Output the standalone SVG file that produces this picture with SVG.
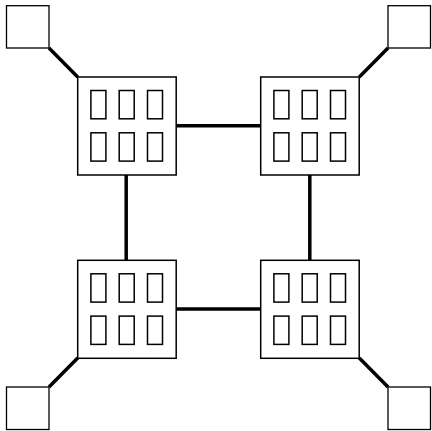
<svg xmlns="http://www.w3.org/2000/svg" width="432" height="431" viewBox="0 0 432 431">
<style>
.box{fill:#fff;stroke:#000;stroke-width:1.5}
.win{fill:#fff;stroke:#000;stroke-width:1.5}
.sq{fill:#fff;stroke:#000;stroke-width:1.3}
.link{stroke:#000;stroke-width:3.5;fill:none}
.diag{stroke:#000;stroke-width:3.5;fill:none}
</style>
<defs>
<g id="bld">
<rect class="box" x="0" y="0" width="98.5" height="98"/>
<rect class="win" x="13.2" y="13.5" width="15" height="28.3"/>
<rect class="win" x="41.5" y="13.5" width="15" height="28.3"/>
<rect class="win" x="69.8" y="13.5" width="15" height="28.3"/>
<rect class="win" x="13.2" y="55.8" width="15" height="28.3"/>
<rect class="win" x="41.5" y="55.8" width="15" height="28.3"/>
<rect class="win" x="69.8" y="55.8" width="15" height="28.3"/>
</g>
</defs>
<g id="connectors">
<line class="link" x1="176" y1="125.8" x2="260.7" y2="125.8"/>
<line class="link" x1="176" y1="309" x2="260.7" y2="309"/>
<line class="link" x1="126.2" y1="175" x2="126.2" y2="260.3"/>
<line class="link" x1="309.8" y1="175" x2="309.8" y2="260.3"/>
<line class="diag" x1="49" y1="48" x2="77.7" y2="77"/>
<line class="diag" x1="388" y1="48" x2="359.3" y2="77"/>
<line class="diag" x1="49" y1="387" x2="77.7" y2="358"/>
<line class="diag" x1="388" y1="387" x2="359.3" y2="358"/>
</g>
<g id="n1"><use href="#bld" x="77.7" y="77"/></g>
<g id="n2"><use href="#bld" x="260.7" y="77"/></g>
<g id="n3"><use href="#bld" x="77.7" y="260.3"/></g>
<g id="n4"><use href="#bld" x="260.7" y="260.3"/></g>
<g id="s1"><rect class="sq" x="6.5" y="5.7" width="42.5" height="42.3"/></g>
<g id="s2"><rect class="sq" x="388" y="5.7" width="42.5" height="42.3"/></g>
<g id="s3"><rect class="sq" x="6.5" y="387" width="42.5" height="42.5"/></g>
<g id="s4"><rect class="sq" x="388" y="387" width="42.5" height="42.5"/></g>
</svg>
